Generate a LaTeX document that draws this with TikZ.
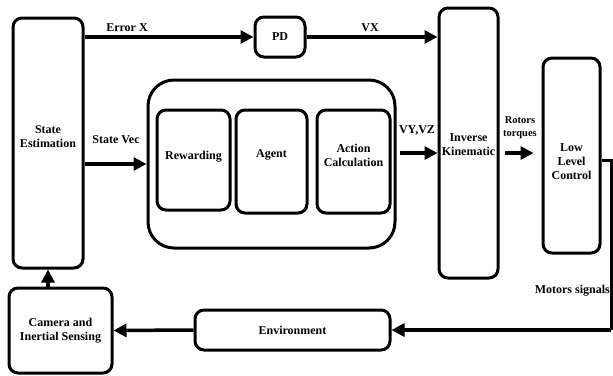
\documentclass[tikz,border=0pt]{standalone}
\usepackage{fontspec}
\setmainfont{Liberation Serif}
\usetikzlibrary{arrows.meta}
\begin{document}
\begin{tikzpicture}[x=1pt,y=-1pt,
  box/.style={draw,line width=3pt,rounded corners=9pt,inner sep=0pt,align=center,
    font=\fontsize{12}{14}\selectfont\bfseries},
  lbl/.style={font=\fontsize{12}{14}\selectfont\bfseries,align=center,inner sep=0pt},
  arr/.style={line width=3.5pt,-{Triangle[length=13pt,width=13pt]}},
  plain/.style={line width=3pt}]
\useasboundingbox (0,0) rectangle (613,375);
\node[box,minimum width=70pt,minimum height=250pt] (SE) at (48,143) {};
\node[lbl] (tSE) at (48,137) {State\\Estimation};
\node[box,minimum width=50pt,minimum height=40pt] (PD) at (280,37) {PD};
\node[box,minimum width=59pt,minimum height=270pt] (IK) at (468.5,143) {};
\node[lbl] (tIK) at (468.5,145) {Inverse\\Kinematic};
\node[box,rounded corners=26pt,minimum width=247pt,minimum height=168pt] (C) at (271.5,164) {};
\node[box,minimum width=73pt,minimum height=100pt] (RW) at (193.5,160) {};
\node[lbl] (tRW) at (193.5,157) {Rewarding};
\node[box,minimum width=71pt,minimum height=103pt] (AG) at (271.5,161.5) {};
\node[lbl] (tAG) at (271.5,155) {Agent};
\node[box,minimum width=73pt,minimum height=103pt] (AC) at (353.5,161.5) {};
\node[lbl] (tAC) at (353.5,155) {Action\\Calculation};
\node[box,minimum width=57pt,minimum height=195pt] (LLC) at (571.5,155.5) {};
\node[lbl] (tLLC) at (571.5,162) {Low\\Level\\Control};
\node[box,minimum width=195pt,minimum height=40pt] (ENV) at (292.5,330) {Environment};
\node[box,minimum width=103pt,minimum height=85pt] (CAM) at (60.5,330.5) {Camera and\\Inertial Sensing};
\coordinate (mc) at (611,330);
\coordinate (yv) at (0,153);
\coordinate (ym) at (0,160);
% arrows
\draw[arr] (SE.east |- PD.west) -- (PD.west);
\draw[arr] (PD.east) -- (PD.east -| IK.west);
\draw[arr] (SE.east |- C.west) -- (C.west);
\draw[arr] ([xshift=3pt]C.east |- yv) -- (IK.west |- yv);
\draw[arr] ([xshift=5pt]IK.east |- yv) -- ([xshift=-8pt]LLC.west |- yv);
\draw[plain] (LLC.east |- ym) -| (mc);
\draw[arr] (mc) -- (ENV.east);
\draw[arr] (ENV.west) -- (CAM.east);
\draw[arr] (CAM.north -| SE.south) -- (SE.south);
% labels
\node[lbl] (lE) at (127,28) {Error X};
\node[lbl] (lVX) at (370,28) {VX};
\node[lbl] (lSV) at (116,140) {State Vec};
\node[lbl] (lVY) at (417,130) {VY,VZ};
\node[lbl,font=\fontsize{10.5}{13}\selectfont\bfseries] (lRT) at (520,128) {Rotors\\torques};
\node[lbl,anchor=east] (lMS) at (610,291) {Motors signals};
\end{tikzpicture}
\end{document}
